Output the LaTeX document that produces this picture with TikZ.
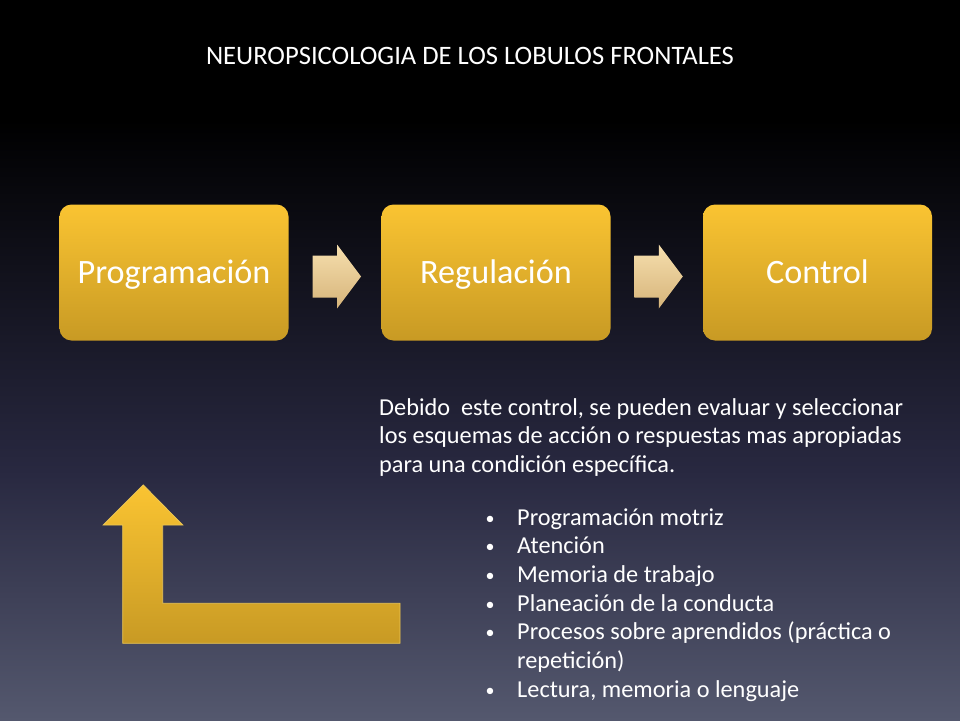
\documentclass[tikz,border=0pt]{standalone}
\usepackage{fontspec}
\setmainfont{Carlito}
\usetikzlibrary{calc}
\definecolor{oroA}{RGB}{250,196,50}
\definecolor{oroB}{RGB}{200,154,36}
\definecolor{oroC}{RGB}{236,198,84}
\definecolor{arenaA}{RGB}{246,223,174}
\definecolor{arenaB}{RGB}{214,180,122}
\definecolor{fondoA}{RGB}{40,40,64}
\definecolor{fondoB}{RGB}{84,88,110}
\tikzset{
  etapa/.style={rectangle, rounded corners=12pt, minimum width=229pt, minimum height=136pt,
    top color=oroA, bottom color=oroB, text=white, inner sep=0pt,
    font=\fontsize{34.2}{40}\selectfont, text height=27pt, text depth=5pt},
  flecha/.style={top color=arenaA, bottom color=arenaB},
  texto/.style={text=white, inner sep=0pt, font=\fontsize{24.3}{28.7}\selectfont}
}
\newcommand{\vineta}{\raisebox{1pt}{\fontsize{18}{18}\selectfont •}}
\begin{document}
\begin{tikzpicture}[x=1pt, y=-1pt]
%\draw[very thin, gray] (0,0) grid[step=20] (960,720);
\useasboundingbox (0,0) rectangle (960,720);
\fill[black] (0,0) rectangle (960,120);
\shade[top color=black, bottom color=fondoA] (0,119.5) rectangle (960,470);
\shade[top color=fondoA, bottom color=fondoB] (0,469.5) rectangle (960,720);
\newcommand{\bloqueflecha}[1]{\shade[flecha] ($(#1)+(-24,-21)$) -- ++(24.5,0) -- ++(0,-11)
  -- ($(#1)+(24.5,0)$) -- ($(#1)+(0.5,32)$) -- ++(0,-11) -- ($(#1)+(-24,21)$) -- cycle;}
\node[texto, font=\fontsize{26.6}{31}\selectfont, anchor=base] (titulo) at (470,64.5)
  {NEUROPSICOLOGIA DE LOS LOBULOS FRONTALES};
\node[etapa] (prog) at (174,272.5) {Programación};
\node[etapa] (regu) at (496,272.5) {Regulación};
\node[etapa] (ctrl) at (817.5,272.5) {Control};
\coordinate (f1) at ($(prog.east)!0.5!(regu.west)+(1.5,4)$);
\coordinate (f2) at ($(regu.east)!0.5!(ctrl.west)+(1.5,4)$);
\bloqueflecha{f1}
\bloqueflecha{f2}
\coordinate (punta) at (143.3,485);
\shade[top color=oroA, bottom color=oroB, draw=oroC, line width=0.8pt] (punta) -- ++(39.4,40)
  -- ++(-20,0) -- ++(0,78.3) -- ++(237.3,0) -- ++(0,40) -- ++(-277.3,0) -- ++(0,-118.3)
  -- ++(-19.4,0) -- cycle;
\node[texto, anchor=base west] (parrafo) at (379,415) {\begin{tabular}[t]{@{}l@{}}
  Debido\ \ este control, se pueden evaluar y seleccionar\\
  los esquemas de acción o respuestas mas apropiadas\\
  para una condición específica.\end{tabular}};
\node[texto, anchor=base west] (lista) at (485.5,525) {\begin{tabular}[t]{@{}p{31.5pt}@{}l@{}}
  \vineta & Programación motriz\\
  \vineta & Atención\\
  \vineta & Memoria de trabajo\\
  \vineta & Planeación de la conducta\\
  \vineta & Procesos sobre aprendidos (práctica o\\
          & repetición)\\
  \vineta & Lectura, memoria o lenguaje\end{tabular}};
\end{tikzpicture}
\end{document}
